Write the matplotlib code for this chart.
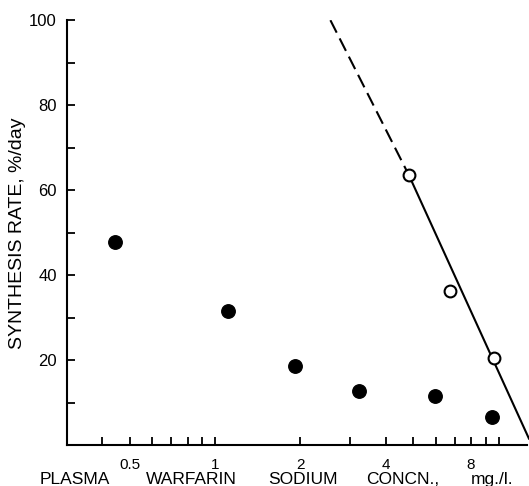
import numpy as np
import matplotlib
matplotlib.use("Agg")
import matplotlib.pyplot as plt
from matplotlib.ticker import FixedLocator, NullFormatter

plt.rcParams['font.family'] = ['Liberation Sans', 'DejaVu Sans']

# filled circles
conc_filled = [0.444, 1.11, 1.92, 3.21, 5.97, 9.47]
rate_filled = [47.8, 31.6, 18.6, 12.7, 11.7, 6.6]

# open circles
conc_open = [4.83, 6.76, 9.60]
rate_open = [63.5, 36.4, 20.5]

# fitted line (dashed extrapolation + solid part)
line_dash_x = [2.55, 4.83]
line_dash_y = [100, 63.5]
line_solid_x = [4.83, 12.8]
line_solid_y = [63.5, 1.6]

xtick_major = [0.5, 1, 2, 4, 8]
xtick_labels = ['0.5', '1', '2', '4', '8']
xtick_minor = [0.4, 0.6, 0.7, 0.8, 0.9, 3, 5, 6, 7, 9, 10]
ytick_major = [20, 40, 60, 80, 100]
ytick_minor = [10, 30, 50, 70, 90]

xlabel_words = ['PLASMA', 'WARFARIN', 'SODIUM', 'CONCN.,', 'mg./l.']
xlabel_px = [75, 191, 303, 403, 492]

W, H = 529, 486
fig = plt.figure(figsize=(W / 100, H / 100), dpi=100)
ax = fig.add_axes([66.5 / W, 1 - 445.4 / H, (527 - 66.5) / W, (445.4 - 20.2) / H])

ax.plot(line_dash_x, line_dash_y, color='black', lw=1.5, ls=(0, (6.7, 3.1)))
ax.plot(line_solid_x, line_solid_y, color='black', lw=1.5, clip_on=False)
ax.plot(conc_filled, rate_filled, 'o', color='black', ms=9.7)
ax.plot(conc_open, rate_open, 'o', mfc='white', mec='black', mew=1.5, ms=8.5)

ax.set_xscale('log')
ax.set_xlim(0.2987, 12.6)
ax.set_ylim(0, 100)

ax.xaxis.set_major_locator(FixedLocator(xtick_major))
ax.set_xticklabels(xtick_labels)
ax.xaxis.set_minor_locator(FixedLocator(xtick_minor))
ax.xaxis.set_minor_formatter(NullFormatter())
ax.yaxis.set_major_locator(FixedLocator(ytick_major))
ax.yaxis.set_minor_locator(FixedLocator(ytick_minor))

for s in ['top', 'right']:
    ax.spines[s].set_visible(False)
for s in ['left', 'bottom']:
    ax.spines[s].set_linewidth(1.5)

ax.tick_params(which='both', direction='in', length=6, width=1.3)
ax.tick_params(axis='x', which='major', pad=9, labelsize=11)
ax.tick_params(axis='y', which='major', pad=7, labelsize=12)

ax.set_ylabel('SYNTHESIS RATE, %/day', fontsize=14)
ax.yaxis.set_label_coords(-0.088, 0.5)

for word, px in zip(xlabel_words, xlabel_px):
    fig.text(px / W, 1 - 479 / H, word, fontsize=12.5, ha='center', va='center')

fig.savefig('out.png', dpi=100)
